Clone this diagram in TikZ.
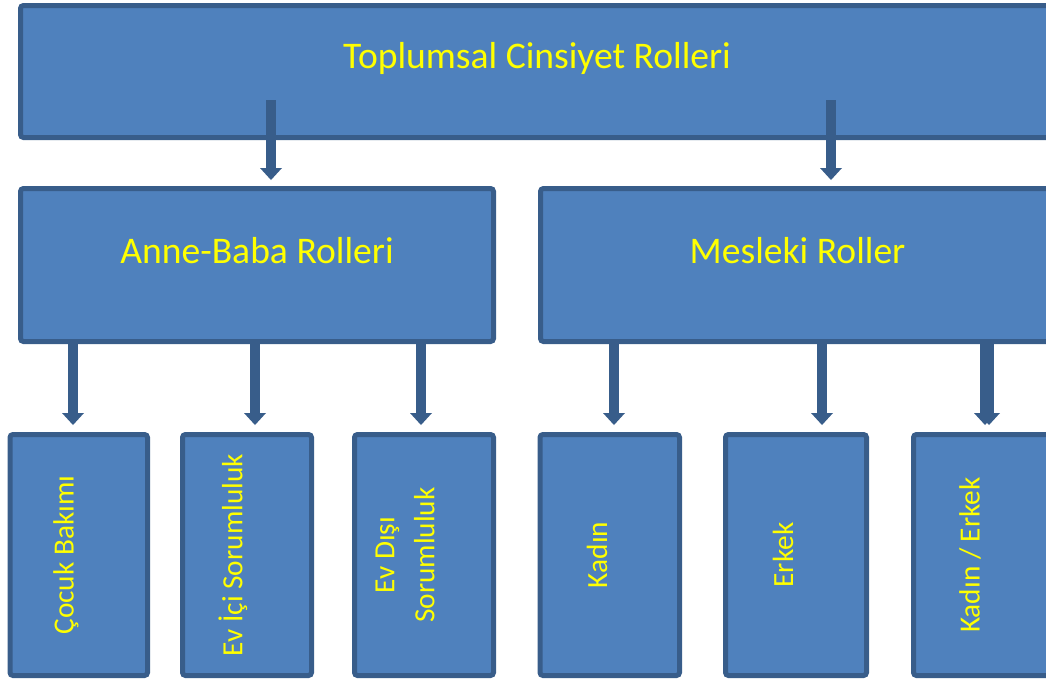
\documentclass[tikz,border=0pt]{standalone}
\usepackage{fontspec}
\setmainfont{Carlito}
\usetikzlibrary{arrows.meta}
\definecolor{boxfill}{HTML}{4F81BD}
\definecolor{boxline}{HTML}{385D8A}
\definecolor{txt}{HTML}{FFFF00}
\begin{document}
\begin{tikzpicture}[x=1pt,y=-1pt,
  box/.style={rectangle, draw=boxline, fill=boxfill, line width=5pt, rounded corners=3pt, inner sep=0pt},
  bigtext/.style={text=txt, inner sep=0pt, font=\fontsize{37.6}{44}\selectfont},
  vtext/.style={text=txt, inner sep=0pt, rotate=90, font=\fontsize{29.3}{40}\selectfont},
  conn/.style={draw=boxline, line width=10pt, -{Triangle[width=22pt,length=12pt,line width=0pt]}}]
\useasboundingbox (0,0) rectangle (1046,681);
\clip (0,0) rectangle (1046,681);
% boxes
\node[box, minimum width=1032pt, minimum height=132pt] (top) at (536.5,71.5) {};
\node[box, minimum width=473pt, minimum height=153pt] (ab) at (257,265) {};
\node[box, minimum width=512pt, minimum height=153pt] (mr) at (796.5,265) {};
\node[box, minimum width=137.5pt, minimum height=241pt] (c1) at (78.75,555) {};
\node[box, minimum width=129pt, minimum height=241pt] (c2) at (247,555) {};
\node[box, minimum width=139pt, minimum height=241pt] (c3) at (424,555) {};
\node[box, minimum width=139.5pt, minimum height=241pt] (c4) at (609.75,555) {};
\node[box, minimum width=141pt, minimum height=241pt] (c5) at (796,555) {};
\node[box, minimum width=139pt, minimum height=241pt] (c6) at (983,555) {};
% texts
\node[bigtext] (topt) at (537,58) {Toplumsal Cinsiyet Rolleri};
\node[bigtext] (abt) at (257,251) {Anne-Baba Rolleri};
\node[bigtext] (mrt) at (797.5,251) {Mesleki Roller};
\node[vtext] (c1t) at (66,555) {Çocuk Bakımı};
\node[vtext] (c2t) at (233,555) {Ev İçi Sorumluluk};
\node[vtext, align=center] (c3t) at (405,555) {Ev Dışı\\Sorumluluk};
\node[vtext] (c4t) at (597,555) {Kadın};
\node[vtext] (c5t) at (783,555) {Erkek};
\node[vtext] (c6t) at (970,555) {Kadın / Erkek};
% connectors
\coordinate (s1) at (271,100);
\coordinate (s2) at (831,100);
\draw[conn] (s1) -- ([yshift=6pt]s1 |- ab.north);
\draw[conn] (s2) -- ([yshift=6pt]s2 |- mr.north);
\coordinate (a1) at (73,341);
\coordinate (a2) at (255,341);
\coordinate (a3) at (421,341);
\coordinate (a4) at (614,341);
\coordinate (a5) at (822,341);
\coordinate (a6) at (985,341);
\coordinate (a7) at (989,341);
\draw[conn] (a1) -- ([yshift=7pt]a1 |- c1.north);
\draw[conn] (a2) -- ([yshift=7pt]a2 |- c2.north);
\draw[conn] (a3) -- ([yshift=7pt]a3 |- c3.north);
\draw[conn] (a4) -- ([yshift=7pt]a4 |- c4.north);
\draw[conn] (a5) -- ([yshift=7pt]a5 |- c5.north);
\draw[conn] (a6) -- ([yshift=7pt]a6 |- c6.north);
\draw[conn] (a7) -- ([yshift=7pt]a7 |- c6.north);
\end{tikzpicture}
\end{document}
